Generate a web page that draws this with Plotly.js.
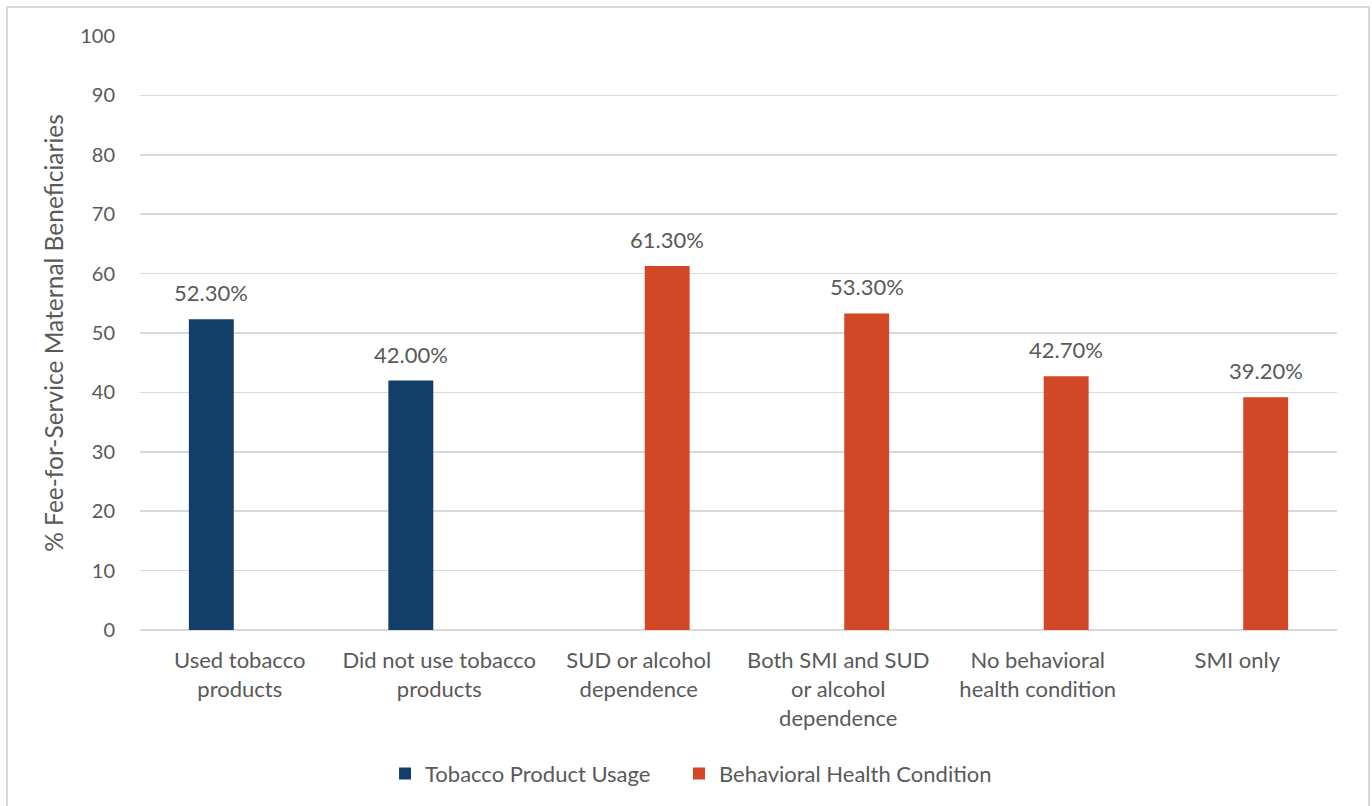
<!DOCTYPE html>
<html>
<head>
<meta charset="utf-8">
<script src="https://cdn.plot.ly/plotly-3.0.1.min.js"></script>
<style>
  html, body { margin: 0; padding: 0; background: #ffffff; }
  #wrap { position: relative; width: 1372px; height: 806px; overflow: hidden; }
  #chart { position: absolute; left: 0; top: 0; width: 1372px; height: 806px; }
  #frame { position: absolute; left: 6px; top: 6px; width: 1360px; height: 820px;
           border: 2px solid #d9d9d9; pointer-events: none; }
</style>
</head>
<body>
<div id="wrap">
  <div id="chart"></div>
  <div id="frame"></div>
</div>
<script>
// Categories along the x axis
const categories = [
  "Used tobacco<br>products",
  "Did not use tobacco<br>products",
  "SUD or alcohol<br>dependence",
  "Both SMI and SUD<br>or alcohol<br>dependence",
  "No behavioral<br>health condition",
  "SMI only"
];

// Series values (% of fee-for-service maternal beneficiaries)
const tobaccoValues    = [52.3, 42.0, null, null, null, null];
const behavioralValues = [null, null, 61.3, 53.3, 42.7, 39.2];

const seriesNames = ["Tobacco Product Usage", "Behavioral Health Condition"];
const yTicks = [0, 10, 20, 30, 40, 50, 60, 70, 80, 90, 100];

const FONT = "Lato, 'Open Sans', sans-serif";
const GREY = "#595959";
const NAVY = "#123f69";
const ORANGE = "#d24726";

const W = 1372, H = 806;
const margin = { l: 140, r: 35, t: 36, b: 175 };
const bargap = 0.43, bargroupgap = 0.21;

// Offset of each series' bar centre from its category centre, from the bar layout
const plotW = W - margin.l - margin.r;
const slot = (plotW / categories.length) * (1 - bargap) / 2;
const seriesShift = [-slot / 2, slot / 2];

const traces = [
  { type: "bar", name: seriesNames[0], x: categories, y: tobaccoValues,
    marker: { color: NAVY }, hoverinfo: "y", legend: "legend" },
  { type: "bar", name: seriesNames[1], x: categories, y: behavioralValues,
    marker: { color: ORANGE }, hoverinfo: "y", legend: "legend2" }
];

// Value labels above each bar
const annotations = [];
[tobaccoValues, behavioralValues].forEach((vals, s) => {
  vals.forEach((v, i) => {
    if (v === null) return;
    annotations.push({
      x: categories[i], y: v, xref: "x", yref: "y",
      text: v.toFixed(2) + "%", showarrow: false,
      xanchor: "center", yanchor: "bottom",
      xshift: seriesShift[s], yshift: 11,
      font: { family: FONT, size: 22, color: GREY }
    });
  });
});

// One legend box per series, side by side under the axis
const legendStyle = {
  orientation: "h", xanchor: "left", y: -0.24, yanchor: "middle",
  font: { family: FONT, size: 22, color: GREY },
  itemwidth: 30, bgcolor: "rgba(0,0,0,0)"
};

const layout = {
  width: W, height: H,
  margin: margin,
  paper_bgcolor: "#ffffff",
  plot_bgcolor: "#ffffff",
  barmode: "group",
  bargap: bargap,
  bargroupgap: bargroupgap,
  showlegend: true,
  legend: Object.assign({ x: 0.2047 }, legendStyle),
  legend2: Object.assign({ x: 0.4503 }, legendStyle),
  xaxis: {
    type: "category",
    tickfont: { family: FONT, size: 22, color: GREY },
    ticks: "outside", ticklen: 11, tickcolor: "rgba(0,0,0,0)",
    showline: false, showgrid: false, zeroline: false,
    fixedrange: true
  },
  yaxis: {
    range: [0, 100],
    tickvals: yTicks,
    ticktext: yTicks.map(String),
    tickfont: { family: FONT, size: 20, color: GREY },
    ticks: "outside", ticklen: 20, tickcolor: "rgba(0,0,0,0)",
    showgrid: true, gridcolor: "#d9d9d9", gridwidth: 1.5,
    zeroline: true, zerolinecolor: "#d9d9d9", zerolinewidth: 1.5,
    showline: false,
    title: { text: "% Fee-for-Service Maternal Beneficiaries",
             font: { family: FONT, size: 24.5, color: GREY }, standoff: 9 },
    fixedrange: true
  },
  annotations: annotations
};

Plotly.newPlot("chart", traces, layout, { displayModeBar: false, staticPlot: true });
</script>
</body>
</html>
